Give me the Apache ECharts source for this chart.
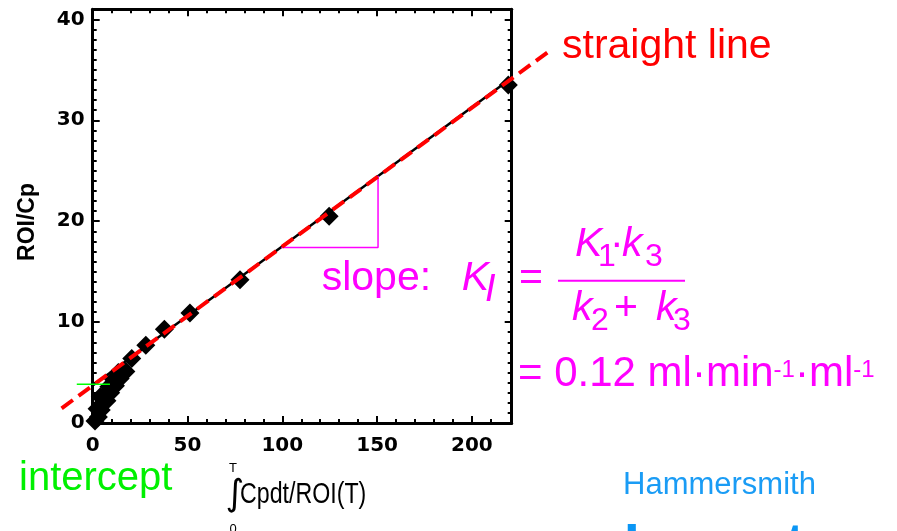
<!DOCTYPE html>
<html><head><meta charset="utf-8">
<script src="https://cdn.jsdelivr.net/npm/echarts@6/dist/echarts.min.js"></script>
<style>html,body{margin:0;padding:0;background:#fff}#c{width:897px;height:531px}</style>
</head><body><div id="c"></div>
<script>
// ---- data ----
const xMajorTicks = [0, 50, 100, 150, 200];
const xMinorTicks = [10, 20, 30, 40, 60, 70, 80, 90, 110, 120, 130, 140, 160, 170, 180, 190, 210];
const yMajorTicks = [0, 10, 20, 30, 40];
const yMinorTicks = [1,2,3,4,5,6,7,8,9, 11,12,13,14,15,16,17,18,19, 21,22,23,24,25,26,27,28,29, 31,32,33,34,35,36,37,38,39];
// Patlak points [∫Cp dt / ROI(T), ROI/Cp]
const roiPoints = [
  [1.2,0.2],[3.0,0.6],[2.3,1.4],[4.5,1.3],[5.5,2.0],[4.0,2.6],[7.5,2.2],[7.0,2.9],[9.5,3.0],
  [8.5,3.6],[12.0,3.7],[11.0,4.3],[14.5,4.4],[13.5,5.0],[17.5,5.1],
  [20.6,6.4],[28.0,7.7],[37.8,9.3],[51.3,10.9],[77.7,14.2],[124.7,20.5],[219.2,33.5]
];
// black regression line (inside the frame) and red dashed overlay (extends beyond the frame)
const blackFit = [[0, 3.72], [221, 34.2]];
const redFit = [[-16.4, 1.46], [240.4, 36.8]];
const slopeTriangle = [[99.5, 17.4], [150.5, 17.4], [150.5, 24.5]];
const interceptMark = [[-8.4, 3.84], [9.1, 3.84]];
const xRange = [0, 221];
const yRange = [0, 41];

// ---- helpers ----
const SANS = "'Liberation Sans', Arial, sans-serif";
const MAG = '#ff00ff';
function txt(text, x, baseline, size, color, extra) {
  extra = extra || {};
  const el = {
    type: 'text', x: x, y: baseline - 0.3465 * size, z: 100,
    style: {
      text: text, fill: color, fontSize: size, fontFamily: extra.family || SANS,
      fontStyle: extra.italic ? 'italic' : 'normal', fontWeight: extra.bold ? 'bold' : 'normal',
      align: extra.align || 'left', textAlign: extra.align || 'left',
      verticalAlign: 'middle', textVerticalAlign: 'middle'
    }
  };
  if (extra.scaleX) el.scaleX = extra.scaleX;
  return el;
}
const mctx = document.createElement('canvas').getContext('2d');
function w(text, size, italic) {
  mctx.font = (italic ? 'italic ' : '') + size + 'px ' + SANS;
  return mctx.measureText(text).width;
}

const graphics = [];
// y axis title (rotated)
graphics.push({type:'text', x: 27.5, y: 222, rotation: Math.PI/2, z: 100,
  style:{text:'ROI/Cp', fill:'#000', fontSize:23, fontWeight:'bold', fontFamily:SANS,
    align:'center', textAlign:'center', verticalAlign:'middle', textVerticalAlign:'middle'}});
// x axis title
graphics.push({type:'text', x: 235, y: 496, z:100, style:{text:'\u222B', fill:'#000', fontSize:36, fontFamily:"'DejaVu Sans', sans-serif",
  align:'center', textAlign:'center', verticalAlign:'middle', textVerticalAlign:'middle'}});
graphics.push({type:'text', x: 233, y: 468, z:100, style:{text:'T', fill:'#000', fontSize:13, fontFamily:SANS,
  align:'center', textAlign:'center', verticalAlign:'middle', textVerticalAlign:'middle'}});
graphics.push({type:'text', x: 233, y: 529, z:100, style:{text:'0', fill:'#000', fontSize:13, fontFamily:SANS,
  align:'center', textAlign:'center', verticalAlign:'middle', textVerticalAlign:'middle'}});
graphics.push(txt('Cpdt/ROI(T)', 240, 505, 29, '#000', {scaleX: 0.8}));

// annotations
graphics.push(txt('straight line', 562, 61, 41, '#ff0000'));
graphics.push(txt('intercept', 19, 492.5, 40, '#00f000'));
graphics.push(txt('slope:', 321.7, 292.5, 41, MAG));
graphics.push(txt('K', 461.7, 292.5, 41, MAG, {italic:true}));
graphics.push(txt('I', 485, 303.5, 38, MAG, {italic:true}));
graphics.push(txt('=', 519, 292.5, 41, MAG));
// fraction numerator
graphics.push(txt('K', 575, 259, 41, MAG, {italic:true}));
graphics.push(txt('1', 598, 268, 32, MAG));
graphics.push(txt('\u00B7', 610, 259, 41, MAG));
graphics.push(txt('k', 622, 259, 41, MAG, {italic:true}));
graphics.push(txt('3', 645, 268, 32, MAG));
// fraction bar
graphics.push({type:'line', z:100, shape:{x1:558, y1:280.7, x2:685, y2:280.7}, style:{stroke:MAG, lineWidth:2}});
// denominator
graphics.push(txt('k', 572, 322.5, 41, MAG, {italic:true}));
graphics.push(txt('2', 591, 332, 32, MAG));
graphics.push(txt('+', 614, 322.5, 41, MAG));
graphics.push(txt('k', 656, 322.5, 41, MAG, {italic:true}));
graphics.push(txt('3', 673, 332, 32, MAG));
// value line
(function(){
  let x = 518; const base = 389, fs = 42, sfs = 24, sbase = 379;
  const parts = [['= 0.12 ml\u00B7min', fs, base], ['-1', sfs, sbase], ['\u00B7ml', fs, base], ['-1', sfs, sbase]];
  parts.forEach(p => { graphics.push(txt(p[0], x, p[2], p[1], MAG)); x += w(p[0], p[1]); });
})();
// logo text (only its top shows at the bottom edge)
graphics.push(txt('Hammersmith', 623, 496, 31, '#1a9cf5'));
graphics.push(txt('Imanet', 624, 566, 56, '#0a96f5', {bold:true}));

// ---- axes ----
function axisLine(show) { return show ? {show:true, onZero:false, lineStyle:{color:'#000', width:3}} : {show:false, onZero:false}; }
function xAx(pos, ticks, len, showLine, showLabel) {
  return {type:'value', position:pos, min:xRange[0], max:xRange[1],
    axisLine: axisLine(showLine),
    axisTick:{show:true, inside:true, length:len, customValues:ticks, lineStyle:{color:'#000', width:2}},
    axisLabel: showLabel ? {show:true, customValues:ticks, color:'#000', fontSize:20, fontWeight:'bold',
      fontFamily:"'DejaVu Sans', sans-serif", margin:13} : {show:false},
    splitLine:{show:false}, minorTick:{show:false}};
}
function yAx(pos, ticks, len, showLine, showLabel) {
  return {type:'value', position:pos, min:yRange[0], max:yRange[1],
    axisLine: axisLine(showLine),
    axisTick:{show:true, inside:true, length:len, customValues:ticks, lineStyle:{color:'#000', width:2}},
    axisLabel: showLabel ? {show:true, customValues:ticks, color:'#000', fontSize:20, fontWeight:'bold',
      fontFamily:"'DejaVu Sans', sans-serif", margin:8} : {show:false},
    splitLine:{show:false}, minorTick:{show:false}};
}

const option = {
  animation:false,
  backgroundColor:'#fff',
  grid:{left:92.7, right:385.3, top:9.3, bottom:108, containLabel:false},
  xAxis:[
    xAx('bottom', xMajorTicks, 7, true, true),
    xAx('bottom', xMinorTicks, 4, false, false),
    xAx('top', xMajorTicks, 7, true, false),
    xAx('top', xMinorTicks, 4, false, false)
  ],
  yAxis:[
    yAx('left', yMajorTicks, 7, true, true),
    yAx('left', yMinorTicks, 4, false, false),
    yAx('right', yMajorTicks, 7, true, false),
    yAx('right', yMinorTicks, 4, false, false)
  ],
  series:[
    {type:'line', name:'fit', data:blackFit, xAxisIndex:0, yAxisIndex:0,
      symbol:'none', lineStyle:{color:'#000', width:2.5}, z:2},
    {type:'scatter', name:'ROI/Cp', data:roiPoints, xAxisIndex:0, yAxisIndex:0,
      symbol:'diamond', symbolSize:19, itemStyle:{color:'#000', opacity:1}, z:3},
    {type:'line', name:'slope', data:slopeTriangle, xAxisIndex:0, yAxisIndex:0,
      symbol:'none', lineStyle:{color:MAG, width:1.5}, z:4}
  ],
  graphic: graphics
};
const chart = echarts.init(document.getElementById('c'), null, {renderer:'canvas'});
chart.setOption(option);

// lines that run past the frame: positioned through the chart's own axes
const toPx = p => chart.convertToPixel({xAxisIndex:0, yAxisIndex:0}, p);
graphics.push({type:'polyline', z:90, shape:{points: redFit.map(toPx)},
  style:{stroke:'#ff0000', lineWidth:4, lineDash:[14,7], fill:null}});
graphics.push({type:'polyline', z:91, shape:{points: interceptMark.map(toPx)},
  style:{stroke:'#00ff00', lineWidth:1.5, fill:null}});
chart.setOption({graphic: graphics}, {replaceMerge:['graphic']});
</script></body></html>
